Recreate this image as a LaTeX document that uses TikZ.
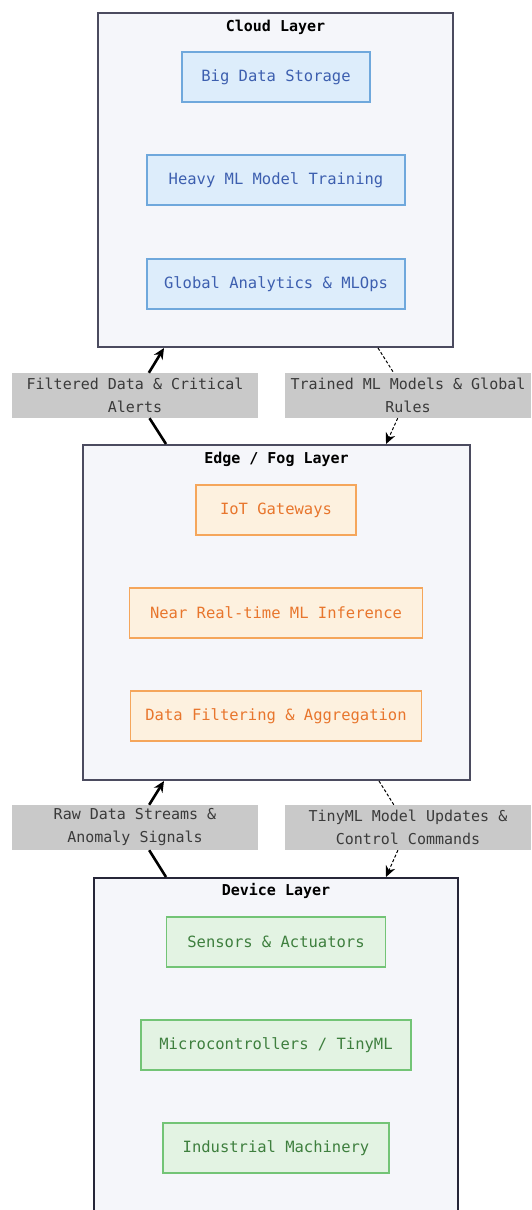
\documentclass[tikz,border=0pt]{standalone}
\usepackage{fontspec}
\newfontfamily\diagfont{DejaVu Sans Mono}
\usetikzlibrary{arrows.meta,positioning,calc}

\definecolor{layerfill}{HTML}{F5F6FA}
\definecolor{layerline}{HTML}{4B4B5F}
\definecolor{devlayerline}{HTML}{262638}
\definecolor{cloudfill}{HTML}{DDEDFB}
\definecolor{cloudline}{HTML}{6FA8DC}
\definecolor{cloudtext}{HTML}{3D5FAF}
\definecolor{edgefill}{HTML}{FDF1DF}
\definecolor{edgeline}{HTML}{F5A65B}
\definecolor{edgetext}{HTML}{E8762D}
\definecolor{devfill}{HTML}{E3F3E3}
\definecolor{devline}{HTML}{73C476}
\definecolor{devtext}{HTML}{3E7F3E}
\definecolor{labelfill}{HTML}{C9C9C9}
\definecolor{labeltext}{HTML}{3A3A3A}

\begin{document}
\begin{tikzpicture}[x=1pt,y=-1pt,
    font=\diagfont\fontsize{15.5}{22}\selectfont,
    layer/.style={draw=layerline,line width=2pt,fill=layerfill,inner sep=0pt},
    title/.style={font=\diagfont\bfseries\fontsize{15}{18}\selectfont,text=black},
    comp/.style={draw=#1line,fill=#1fill,text=#1text,line width=1.4pt,minimum height=50pt,inner sep=0pt},
    flowlabel/.style={fill=labelfill,text=labeltext,minimum width=246pt,minimum height=45pt,
        align=center,inner sep=0pt,font=\diagfont\fontsize{15}{23}\selectfont},
    upflow/.style={line width=2.6pt,-{Stealth[length=11pt,width=10pt]}},
    downflow/.style={line width=1pt,dash pattern=on 3pt off 2pt,-{Stealth[length=11pt,width=10pt]}}]
    \useasboundingbox (0,0) rectangle (531,1210);
    % Layers
    \node[layer,minimum width=355pt,minimum height=334pt] (cloud) at (275.5,180) {};
    \node[layer,minimum width=387pt,minimum height=335pt] (edge) at (276.5,612.5) {};
    \node[layer,draw=devlayerline,minimum width=364pt,minimum height=344pt] (device) at (276,1050) {};
    \node[title] (cloudtitle) at ($(cloud.north)+(0,15)$) {Cloud Layer};
    \node[title] (edgetitle) at ($(edge.north)+(0,15)$) {Edge / Fog Layer};
    \node[title] (devicetitle) at ($(device.north)+(0,14)$) {Device Layer};
    % Components
    \foreach \n/\y/\w/\t in {c1/77/188/{Big Data Storage}, c2/180/258/{Heavy ML Model Training},
            c3/284/258/{Global Analytics \& MLOps}} {
        \node[comp=cloud,minimum width=\w pt] (\n) at (276,\y) {\t};
    }
    \foreach \n/\y/\w/\t in {e1/510/160/{IoT Gateways}, e2/613/293/{Near Real-time ML Inference},
            e3/716/291/{Data Filtering \& Aggregation}} {
        \node[comp=edge,minimum width=\w pt] (\n) at (276,\y) {\t};
    }
    \foreach \n/\y/\w/\t in {d1/942/219/{Sensors \& Actuators}, d2/1045/270/{Microcontrollers / TinyML},
            d3/1148/226/{Industrial Machinery}} {
        \node[comp=dev,minimum width=\w pt] (\n) at (276,\y) {\t};
    }
    % Flow labels
    \node[flowlabel] (up1) at (135,395.5) {Filtered Data \& Critical\\Alerts};
    \node[flowlabel] (down1) at (408,395.5) {Trained ML Models \& Global\\Rules};
    \node[flowlabel] (up2) at (135,827.5) {Raw Data Streams \&\\Anomaly Signals};
    \node[flowlabel] (down2) at (408,827.5) {TinyML Model Updates \&\\Control Commands};
    % Flows
    \draw[upflow] ([xshift=84pt]edge.north west) -- (up1) -- ([xshift=67pt]cloud.south west);
    \draw[downflow] ([xshift=-76pt]cloud.south east) -- (down1) -- ([xshift=-85pt]edge.north east);
    \draw[upflow] ([xshift=73pt]device.north west) -- (up2) -- ([xshift=82pt]edge.south west);
    \draw[downflow] ([xshift=-92pt]edge.south east) -- (down2) -- ([xshift=-73pt]device.north east);
\end{tikzpicture}
\end{document}
